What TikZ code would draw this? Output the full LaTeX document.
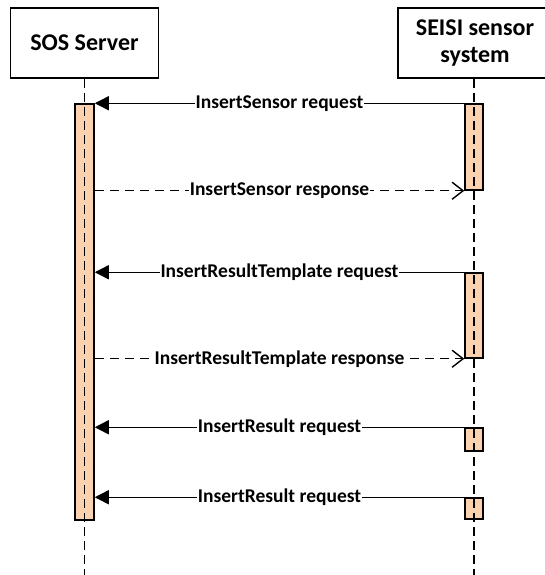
\documentclass[tikz,border=0pt]{standalone}
\usepackage{fontspec}
\setmainfont{Carlito}
\usetikzlibrary{arrows.meta}
\definecolor{act}{RGB}{250,210,176}
\begin{document}
\begin{tikzpicture}[x=1pt,y=-1pt,
  head/.style={draw, line width=1.5pt, minimum height=70pt, inner sep=0pt, align=center,
    font=\fontsize{24}{27}\selectfont\bfseries},
  life/.style={line width=1.5pt, dash pattern=on 9pt off 5pt},
  actbar/.style={draw, fill=act, line width=1.5pt, inner sep=0pt},
  req/.style={line width=1.4pt, -{Triangle[length=14pt,width=14pt]}},
  resp/.style={line width=1.4pt, dash pattern=on 9pt off 6pt, -{Straight Barb[length=11pt,width=17pt,line width=1.4pt]}},
  lbl/.style={fill=white, inner sep=0.5pt, font=\fontsize{19.5}{21}\selectfont\bfseries}]
\useasboundingbox (0,0) rectangle (545,575);
% heads
\node[head, minimum width=148pt] (sos) at (84.5,43) {SOS Server};
\node[head, minimum width=154pt] (seisi) at (475,43) {SEISI sensor\\system};
% activation bars
\node[actbar, minimum width=19pt, minimum height=416pt] (L) at (84.5,312) {};
\node[actbar, minimum width=18pt, minimum height=86pt] (r1) at (474,147) {};
\node[actbar, minimum width=18pt, minimum height=85pt] (r2) at (474,315.5) {};
\node[actbar, minimum width=18pt, minimum height=23pt] (r3) at (474,439.5) {};
\node[actbar, minimum width=18pt, minimum height=21pt] (r4) at (474,508.5) {};
% lifeline ends
\coordinate (sosend) at (84.5,575);
\coordinate (seisiend) at (474,575);
\draw[life] (sos.south) -- (sosend);
\draw[life] (seisi.south -| seisiend) -- (seisiend);
% messages
\draw[req] (r1.north west) -- node[lbl] {InsertSensor request} (r1.north west -| L.east);
\draw[resp] (r1.south west -| L.east) -- node[lbl] {InsertSensor response} (r1.south west);
\draw[req] (r2.north west) -- node[lbl] {InsertResultTemplate request} (r2.north west -| L.east);
\draw[resp] (r2.south west -| L.east) -- node[lbl] {InsertResultTemplate response} (r2.south west);
\draw[req] (r3.north west) -- node[lbl] {InsertResult request} (r3.north west -| L.east);
\draw[req] (r4.north west) -- node[lbl] {InsertResult request} (r4.north west -| L.east);
\end{tikzpicture}
\end{document}
